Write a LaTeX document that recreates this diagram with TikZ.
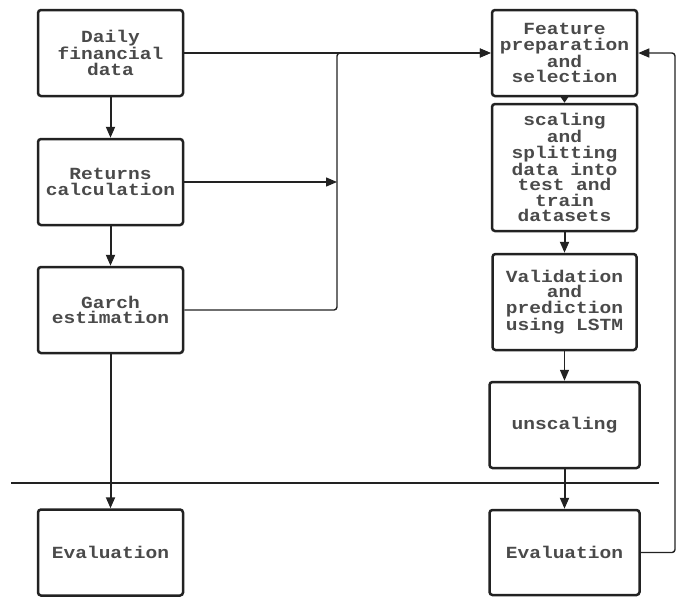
\documentclass[tikz,border=0pt]{standalone}
\usepackage{fontspec}
\setmonofont[FakeStretch=1.15]{Liberation Mono}
\usepackage{xcolor}
\usetikzlibrary{arrows.meta,positioning}
\definecolor{boxline}{HTML}{222222}
\definecolor{boxtext}{HTML}{4A4A4A}

\begin{document}
\begin{tikzpicture}[x=1pt,y=-1pt,>={Triangle[length=11pt,width=9pt]},semithick]

   \tikzstyle{block}=[draw=boxline,line width=2.5pt,rounded corners=3pt,text=boxtext,align=center,
                      font=\ttfamily\bfseries\fontsize{17}{15.5}\selectfont,minimum width=145pt,minimum height=86pt,inner sep=0pt]
   \tikzstyle{flow}=[->,draw=boxline,line width=2pt]
   \tikzstyle{link}=[->,draw=boxline,line width=1.4pt]

   \useasboundingbox (0,0) rectangle (683,598);

   % left column
   \node[block] (daily) at (110.5,53) {Daily\\financial\\data};
   \node[block] (returns) at (110.5,182) {Returns\\calculation};
   \node[block] (garch) at (110.5,310) {Garch\\estimation};
   \node[block] (evalL) at (110.5,552.5) {Evaluation};

   % right column
   \node[block] (feature) at (564.5,53) {Feature\\preparation\\and\\selection};
   \node[block,minimum height=127pt] (scaling) at (564.5,167.5) {scaling\\and\\splitting\\data into\\test and\\train\\datasets};
   \node[block,minimum width=144pt,minimum height=96pt] (valid) at (564.5,302) {Validation\\and\\prediction\\using LSTM};
   \node[block,minimum width=150pt] (unscal) at (564.5,425) {unscaling};
   \node[block,minimum width=150pt,minimum height=85pt] (evalR) at (564.5,552.5) {Evaluation};

   % bus, divider and feedback points
   \coordinate (busT) at (337,53);
   \coordinate (busM) at (337,182);
   \coordinate (busB) at (337,310);
   \coordinate (divL) at (11,483);
   \coordinate (divR) at (659,483);
   \coordinate (back) at (675,53);

   \draw [flow] (daily) -- (returns);
   \draw [flow] (returns) -- (garch);
   \draw [flow] (garch) -- (evalL);

   \draw [flow,>={Triangle[length=7pt,width=9pt]}] (feature) -- (scaling);
   \draw [flow] (scaling) -- (valid);
   \draw [link] (valid) -- (unscal);
   \draw [flow] (unscal) -- (evalR);

   \draw [link] (daily.east) -- (feature.west);
   \draw [link] (returns.east) -- (busM);
   \draw [link,rounded corners=3pt] (garch.east) -- (busB) -- (busT) -- (feature.west);
   \draw [link,rounded corners=3pt] (evalR.east) -| (back) -- (feature.east);

   \draw [draw=boxline,line width=2pt] (divL) -- (divR);

\end{tikzpicture}
\end{document}
